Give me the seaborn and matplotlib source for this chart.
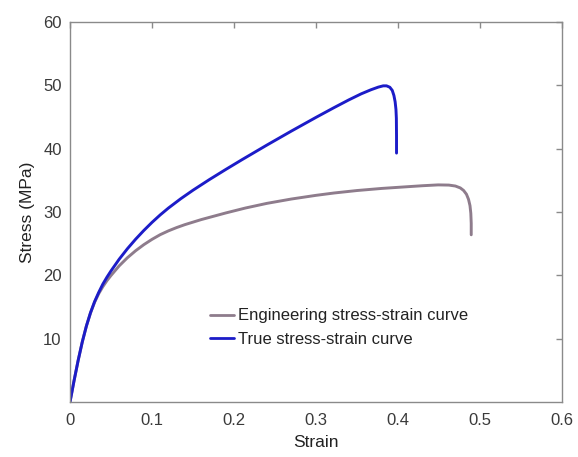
import numpy as np
import pandas as pd
import matplotlib
matplotlib.use("Agg")
import matplotlib.pyplot as plt
import seaborn as sns

eng_strain = [0, 0.005, 0.010, 0.015, 0.020, 0.025, 0.030, 0.035, 0.040, 0.045,
              0.050, 0.060, 0.070, 0.080, 0.090, 0.100, 0.110, 0.120, 0.130, 0.140,
              0.160, 0.190, 0.214, 0.240, 0.270, 0.300, 0.322, 0.350, 0.380, 0.410,
              0.430, 0.449, 0.462, 0.470, 0.476, 0.480, 0.4835, 0.486, 0.4878, 0.4888,
              0.4893, 0.4893]
eng_stress = [0, 3.4, 6.6, 9.5, 12.0, 14.05, 15.75, 17.1, 18.2, 19.15,
              19.98, 21.5, 22.78, 23.88, 24.84, 25.68, 26.42, 27.02, 27.54, 28.0,
              28.8, 29.85, 30.63, 31.36, 32.05, 32.63, 33.0, 33.39, 33.72, 33.98,
              34.15, 34.28, 34.25, 34.1, 33.8, 33.4, 32.8, 32.0, 31.0, 29.8,
              28.2, 26.4]

true_strain = [0, 0.005, 0.010, 0.015, 0.020, 0.025, 0.030, 0.035, 0.040, 0.045,
               0.050, 0.060, 0.070, 0.080, 0.090, 0.100, 0.110, 0.120, 0.135, 0.150,
               0.170, 0.190, 0.210, 0.240, 0.270, 0.300, 0.322, 0.340, 0.355, 0.367,
               0.376, 0.382, 0.386, 0.390, 0.393, 0.395, 0.3965, 0.3975, 0.398, 0.3982,
               0.3982]
true_stress = [0, 3.4, 6.6, 9.5, 12.0, 14.1, 15.85, 17.3, 18.6, 19.7,
               20.7, 22.55, 24.2, 25.7, 27.08, 28.36, 29.54, 30.62, 32.09, 33.44,
               35.12, 36.72, 38.28, 40.56, 42.78, 44.94, 46.48, 47.7, 48.65, 49.3,
               49.72, 49.92, 49.92, 49.7, 49.2, 48.4, 47.4, 46.2, 44.8, 42.0,
               39.3]

x_ticks = [0, 0.1, 0.2, 0.3, 0.4, 0.5, 0.6]
x_tick_labels = ["0", "0.1", "0.2", "0.3", "0.4", "0.5", "0.6"]
y_ticks = [10, 20, 30, 40, 50, 60]
y_tick_labels = ["10", "20", "30", "40", "50", "60"]

labels = ["Engineering stress-strain curve", "True stress-strain curve"]
colors = ["#8e7c8c", "#1c1cc8"]

sns.set_style("white")
plt.rcParams["font.family"] = ["Liberation Sans", "DejaVu Sans"]

df = pd.concat([
    pd.DataFrame({"strain": eng_strain, "stress": eng_stress, "curve": labels[0]}),
    pd.DataFrame({"strain": true_strain, "stress": true_stress, "curve": labels[1]}),
], ignore_index=True)

fig = plt.figure(figsize=(5.78, 4.57), dpi=100)
ax = fig.add_axes([70 / 578, 1 - 402 / 457, 492 / 578, 380 / 457])

sns.lineplot(data=df, x="strain", y="stress", hue="curve", palette=colors,
             hue_order=labels, sort=False, estimator=None,
             linewidth=2.1, ax=ax)
for ln in ax.get_lines():
    ln.set_solid_joinstyle("round")
    ln.set_solid_capstyle("round")

ax.set_xlim(0, 0.6)
ax.set_ylim(0, 60)
ax.set_xticks(x_ticks)
ax.set_xticklabels(x_tick_labels)
ax.set_yticks(y_ticks)
ax.set_yticklabels(y_tick_labels)

for s in ax.spines.values():
    s.set_visible(True)
    s.set_color("#8a8a8a")
    s.set_linewidth(1.0)

ax.tick_params(axis="both", direction="in", length=4, width=1, color="#8a8a8a",
               labelsize=12, labelcolor="#3a3a3a", top=True, right=True)
ax.tick_params(axis="x", pad=8)
ax.tick_params(axis="y", pad=6)

ax.set_xlabel("Strain", fontsize=12.5, color="#222222", labelpad=5)
ax.set_ylabel("Stress (MPa)", fontsize=12.5, color="#222222", labelpad=6)

leg = ax.legend(loc="center left", bbox_to_anchor=(0.285, 0.196), frameon=False,
                fontsize=12, handlelength=1.4, handletextpad=0.25, labelspacing=0.5,
                borderpad=0, borderaxespad=0)
for t in leg.get_texts():
    t.set_color("#222222")
for h in leg.get_lines():
    h.set_linewidth(2.0)

fig.savefig("out.png", dpi=100)
